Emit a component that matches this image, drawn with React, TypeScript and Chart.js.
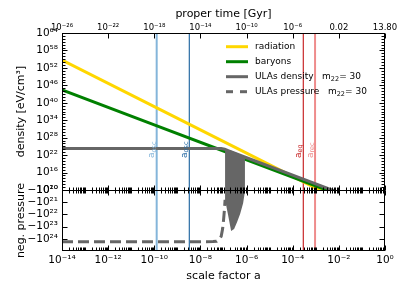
import React, { useEffect, useRef } from 'react';
import { Chart, registerables } from 'chart.js';

Chart.register(...registerables);

const FONT = "'DejaVu Sans', sans-serif";

// ---------- data ----------
const aLine = [1e-14, 1e-10, 1e-6, 1e-2, 1];
const radiation = [4.5e54, 4.5e38, 4.5e22, 4.5e6, 4.5e-2];
const baryons = [2.5e44, 2.5e32, 2.5e20, 2.5e8, 2.5e2];

const ulaDensityA = [1e-14, 1e-10, 7.9e-8, 1.12e-7, 1.58e-7, 1e-6, 1e-4, 1e-2, 1];
const ulaDensity = [2e24, 2e24, 2e24, 1.1e24, 3.2e23, 1.26e21, 1.26e15, 1.26e9, 1.26e3];

const ulaOscA = [1.17e-7, 1.9e-7, 3.16e-7, 5.25e-7, 8.5e-7];
const ulaOscDensity = [2e24, 5e23, 1e23, 1e22, 1e21];

const pressureA = [1e-14, 1e-10, 3.55e-8, 5.01e-8, 6.31e-8, 7.94e-8, 9.12e-8, 1e-7, 1.1e-7, 1.17e-7];
const pressure = [1.75e24, 1.75e24, 1.7e24, 1.6e24, 1.1e24, 6.3e23, 1.6e23, 3.2e22, 4e21, 6.3e20];

const pressOscA = [1.17e-7, 1.58e-7, 2.14e-7, 2.88e-7, 3.89e-7, 5.25e-7, 7.08e-7, 8.51e-7];
const pressOsc = [6.3e20, 1.1e22, 2.3e23, 1.6e23, 4.2e22, 9.3e21, 1.2e21, 1.26e20];

// marker lines
const markerA = [1.27e-10, 3.3e-9, 2.88e-4, 9.3e-4];
const markerSub = ['osc', 'osc', 'eq', 'rec'];
const markerColors = ['#84b5da', '#2a6ca4', '#c8282a', '#ee8c8c'];
const markerWidths = [2, 1.2, 1.2, 2];

// ticks
const bottomTickValues = [1e-14, 1e-12, 1e-10, 1e-8, 1e-6, 1e-4, 1e-2, 1];
const bottomTickLabels = ['10⁻¹⁴', '10⁻¹²', '10⁻¹⁰', '10⁻⁸', '10⁻⁶', '10⁻⁴', '10⁻²', '10⁰'];
const topTickLabels = ['10⁻²⁶', '10⁻²²', '10⁻¹⁸', '10⁻¹⁴', '10⁻¹⁰', '10⁻⁶', '0.02', '13.80'];
const densityTickValues = [1e10, 1e16, 1e22, 1e28, 1e34, 1e40, 1e46, 1e52, 1e58, 1e64];
const densityTickLabels = ['10¹⁰', '10¹⁶', '10²²', '10²⁸', '10³⁴', '10⁴⁰', '10⁴⁶', '10⁵²', '10⁵⁸', '10⁶⁴'];
const pressureTickValues = [1e20, 1e21, 1e22, 1e23, 1e24];
const pressureTickLabels = ['−10²⁰', '−10²¹', '−10²²', '−10²³', '−10²⁴'];

const GOLD = '#FFD700';
const GREEN = '#008000';
const GRAY = '#666666';

const xy = (xs: number[], ys: number[]) => xs.map((x, i) => ({ x, y: ys[i] }));

const panelClip = {
  id: 'panelClip',
  beforeDatasetDraw(chart: any, args: any) {
    const ys = chart.scales[args.meta.yAxisID];
    const ca = chart.chartArea;
    chart.ctx.save();
    chart.ctx.beginPath();
    chart.ctx.rect(ca.left, ys.top, ca.right - ca.left, ys.bottom - ys.top);
    chart.ctx.clip();
  },
  afterDatasetDraw(chart: any) {
    chart.ctx.restore();
  },
};

const line = (ctx: CanvasRenderingContext2D, x1: number, y1: number, x2: number, y2: number) => {
  ctx.beginPath();
  ctx.moveTo(x1, y1);
  ctx.lineTo(x2, y2);
  ctx.stroke();
};

const decorations = {
  id: 'decorations',
  beforeDatasetsDraw(chart: any) {
    const { ctx, chartArea: ca } = chart;
    const sx = chart.scales.x;
    ctx.save();
    markerA.forEach((a, i) => {
      const px = sx.getPixelForValue(a);
      ctx.strokeStyle = markerColors[i];
      ctx.lineWidth = markerWidths[i];
      line(ctx, px, ca.top, px, ca.bottom);
    });
    ctx.restore();
  },
  afterDatasetsDraw(chart: any) {
    const { ctx } = chart;
    const sx = chart.scales.x;
    ctx.save();
    markerA.forEach((a, i) => {
      const px = sx.getPixelForValue(a);
      ctx.save();
      ctx.translate(px - 2.5, 158);
      ctx.rotate(-Math.PI / 2);
      ctx.fillStyle = markerColors[i];
      ctx.textBaseline = 'alphabetic';
      ctx.font = `9px ${FONT}`;
      ctx.fillText('a', 0, 0);
      const w = ctx.measureText('a').width;
      ctx.font = `6.5px ${FONT}`;
      ctx.fillText(markerSub[i], w, 1.5);
      ctx.restore();
    });
    ctx.restore();
  },
  afterDraw(chart: any) {
    const { ctx, chartArea: ca } = chart;
    const sx = chart.scales.x;
    const sy = chart.scales.y;
    const sy2 = chart.scales.y2;
    const mid = Math.round(sy.bottom) + 0.5;
    ctx.save();
    ctx.strokeStyle = '#000';
    ctx.lineWidth = 1;
    ctx.setLineDash([]);
    // frame
    const L = Math.round(ca.left) + 0.5, R = Math.round(ca.right) - 0.5;
    const T = Math.round(ca.top) + 0.5, B = Math.round(ca.bottom) - 0.5;
    ctx.strokeRect(L, T, R - L, B - T);
    line(ctx, L, mid, R, mid);
    // x ticks
    for (let e = -14; e <= 0; e++) {
      for (let s = 1; s <= 9; s++) {
        const v = s * Math.pow(10, e);
        if (v > 1.0000001) break;
        const px = Math.round(sx.getPixelForValue(v)) + 0.5;
        const major = s === 1 && e % 2 === 0;
        const len = major ? 5 : 3;
        line(ctx, px, B, px, B - len);
        line(ctx, px, mid, px, mid - len);
        line(ctx, px, mid, px, mid + len);
        if (major) line(ctx, px, T, px, T + 5);
      }
    }
    // y ticks top panel
    for (let e = 10; e <= 64; e++) {
      const py = Math.round(sy.getPixelForValue(Math.pow(10, e))) + 0.5;
      const len = (e - 10) % 6 === 0 ? 5 : 3;
      line(ctx, L, py, L + len, py);
      line(ctx, R, py, R - len, py);
    }
    // y ticks bottom panel
    for (let e = 21; e <= 24; e++) {
      const py = Math.round(sy2.getPixelForValue(Math.pow(10, e))) + 0.5;
      line(ctx, L, py, L + 5, py);
      line(ctx, R, py, R - 5, py);
    }
    // legend
    const items = chart.data.datasets.filter((d: any) => d.inLegend);
    let y = ca.top + 13.7;
    const lx = ca.right - 159;
    items.forEach((d: any) => {
      ctx.strokeStyle = d.borderColor;
      ctx.lineWidth = 3;
      ctx.setLineDash(d.borderDash ? [7, 7] : []);
      line(ctx, lx, y, lx + 22, y);
      ctx.setLineDash([]);
      ctx.fillStyle = '#000';
      ctx.textBaseline = 'middle';
      ctx.font = `9px ${FONT}`;
      let tx = lx + 29;
      ctx.fillText(d.label, tx, y);
      if (d.mass) {
        tx += ctx.measureText(d.label + '   ').width;
        ctx.fillText('m', tx, y);
        tx += ctx.measureText('m').width;
        ctx.font = `6.5px ${FONT}`;
        ctx.fillText('22', tx, y + 2.5);
        tx += ctx.measureText('22').width;
        ctx.font = `9px ${FONT}`;
        ctx.fillText('= ' + d.mass, tx, y);
      }
      y += 15;
    });
    ctx.restore();
  },
};

export default function App() {
  const ref = useRef<HTMLCanvasElement>(null);
  useEffect(() => {
    document.body.style.margin = '0';
    const tickFont = { family: FONT, size: 10.5 };
    const titleFont = { family: FONT, size: 11 };
    const noGrid = { display: false, drawTicks: false, tickLength: 0 };
    const chart = new Chart(ref.current as HTMLCanvasElement, {
      type: 'line',
      data: {
        datasets: [
          { label: 'radiation', inLegend: true, data: xy(aLine, radiation), borderColor: GOLD, borderWidth: 3, yAxisID: 'y', xAxisID: 'x', order: 6 },
          { label: 'baryons', inLegend: true, data: xy(aLine, baryons), borderColor: GREEN, borderWidth: 3, yAxisID: 'y', xAxisID: 'x', order: 5 },
          { label: 'ULAs density', inLegend: true, mass: '30', data: xy(ulaDensityA, ulaDensity), borderColor: GRAY, borderWidth: 3, yAxisID: 'y', xAxisID: 'x', order: 4 },
          { label: 'ULAs density osc', data: xy(ulaOscA, ulaOscDensity), borderColor: GRAY, backgroundColor: GRAY, borderWidth: 0, fill: 'start', yAxisID: 'y', xAxisID: 'x', order: 3 },
          { label: 'ULAs pressure', inLegend: true, mass: '30', data: xy(pressureA, pressure), borderColor: GRAY, borderWidth: 3, borderDash: [11, 5], yAxisID: 'y2', xAxisID: 'x', order: 2 },
          { label: 'ULAs pressure osc', data: xy(pressOscA, pressOsc), borderColor: GRAY, backgroundColor: GRAY, borderWidth: 0, fill: 'end', yAxisID: 'y2', xAxisID: 'x', order: 1 },
        ] as any,
      },
      options: {
        animation: false,
        responsive: false,
        devicePixelRatio: 1,
        layout: { padding: { left: 0, right: 22, top: 0, bottom: 0 } },
        elements: { point: { radius: 0 }, line: { tension: 0 } },
        plugins: { legend: { display: false }, tooltip: { enabled: false } },
        scales: {
          y2: {
            type: 'logarithmic', position: 'left', stack: 'panels', stackWeight: 61, min: 1e20, max: 1e25, reverse: true,
            grid: noGrid, border: { display: false },
            afterBuildTicks: (s: any) => { s.ticks = pressureTickValues.map((v) => ({ value: v })); },
            afterFit: (s: any) => { s.width = 62; },
            ticks: { autoSkip: false, padding: 4, color: '#000', font: tickFont, callback: (_v: any, i: number) => pressureTickLabels[i] },
            title: { display: true, text: 'neg. pressure', color: '#000', font: titleFont, padding: { top: 15, bottom: 0 } },
          },
          y: {
            type: 'logarithmic', position: 'left', stack: 'panels', stackWeight: 157, min: 1e10, max: 1e64,
            grid: noGrid, border: { display: false },
            afterBuildTicks: (s: any) => { s.ticks = densityTickValues.map((v) => ({ value: v })); },
            afterFit: (s: any) => { s.width = 62; },
            ticks: { autoSkip: false, padding: 4, color: '#000', font: tickFont, callback: (_v: any, i: number) => densityTickLabels[i] },
            title: { display: true, text: 'density [eV/cm³]', color: '#000', font: titleFont, padding: { top: 15, bottom: 0 } },
          },
          x: {
            type: 'logarithmic', position: 'bottom', min: 1e-14, max: 1,
            grid: noGrid, border: { display: false },
            afterBuildTicks: (s: any) => { s.ticks = bottomTickValues.map((v) => ({ value: v })); },
            afterFit: (s: any) => { s.height = 40; },
            ticks: { autoSkip: false, maxRotation: 0, minRotation: 0, padding: 3, color: '#000', font: tickFont, callback: (_v: any, i: number) => bottomTickLabels[i] },
            title: { display: true, text: 'scale factor a', color: '#000', font: titleFont, padding: { top: 0, bottom: 8 } },
          },
          xTop: {
            type: 'logarithmic', position: 'top', min: 1e-14, max: 1,
            grid: noGrid, border: { display: false },
            afterBuildTicks: (s: any) => { s.ticks = bottomTickValues.map((v) => ({ value: v })); },
            afterFit: (s: any) => { s.height = 33; },
            ticks: { autoSkip: false, maxRotation: 0, minRotation: 0, padding: 0, color: '#000', font: { family: FONT, size: 8.5 }, callback: (_v: any, i: number) => topTickLabels[i] },
            title: { display: true, text: 'proper time [Gyr]', color: '#000', font: titleFont, padding: { top: 8, bottom: 0 } },
          },
        } as any,
      },
      plugins: [panelClip, decorations],
    });
    return () => chart.destroy();
  }, []);
  return (
    <div style={{ position: 'absolute', left: 0, top: 0, width: 407, height: 291 }}>
      <canvas ref={ref} width={407} height={291} style={{ display: 'block' }} />
    </div>
  );
}
